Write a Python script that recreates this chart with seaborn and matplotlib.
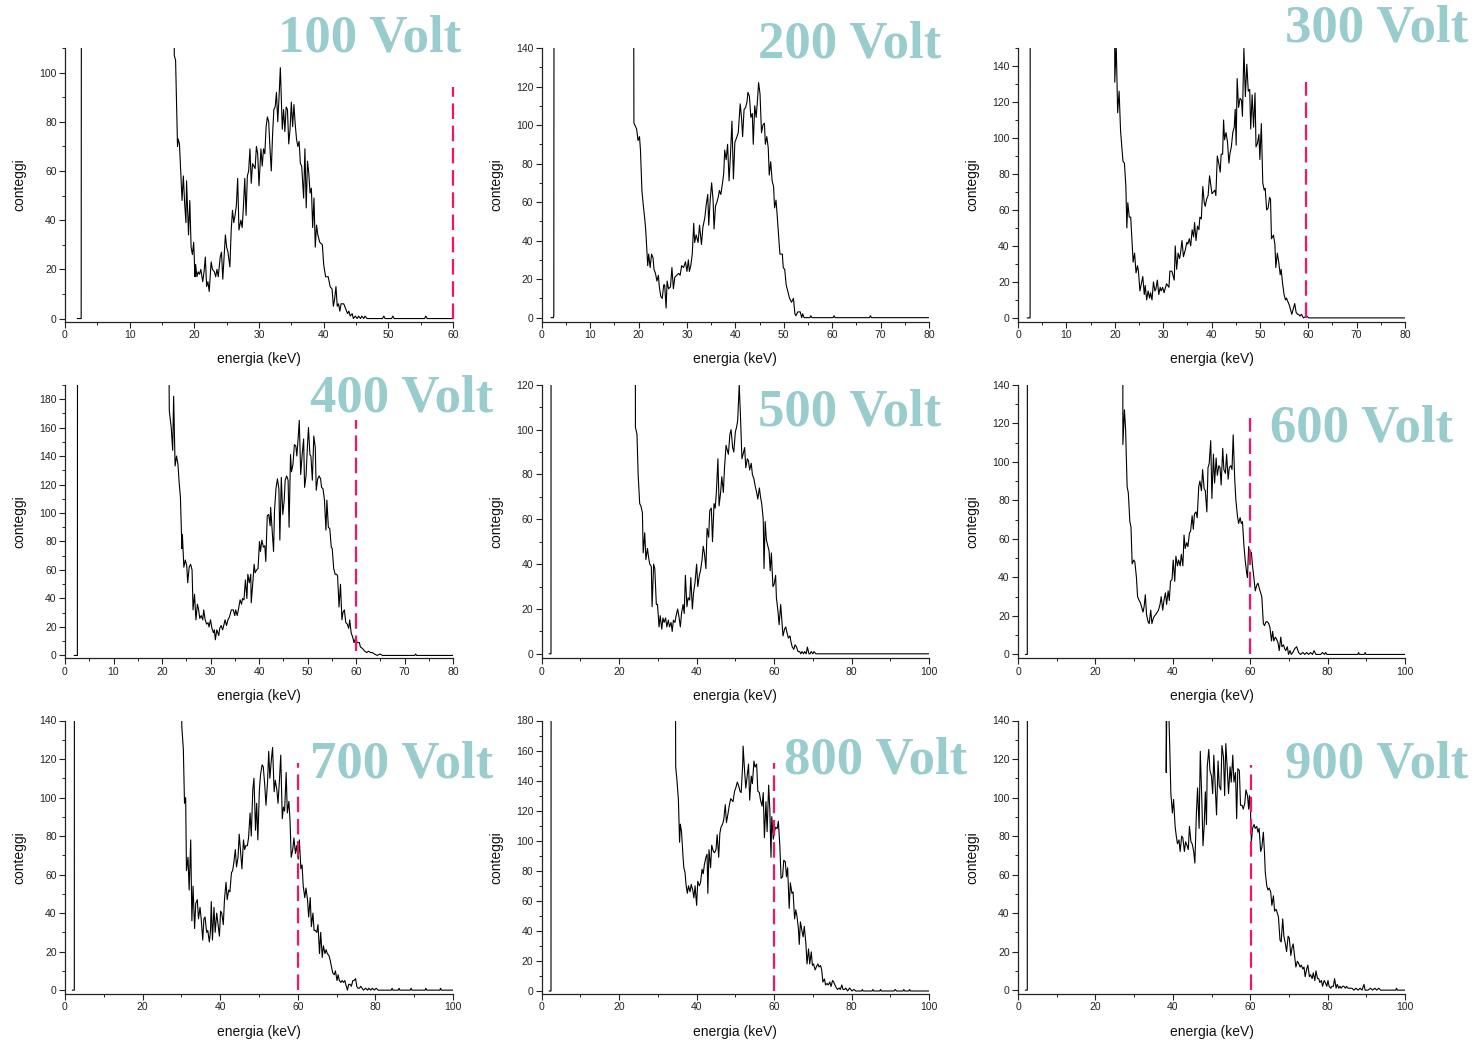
import matplotlib
matplotlib.use("Agg")
import matplotlib.pyplot as plt
import numpy as np
import pandas as pd
import seaborn as sns
from matplotlib.ticker import MultipleLocator

# ---------------- data (energy keV, counts) ----------------
spec100 = [(1.9,0),(2.5,0),(2.6,400),(16.6,400),(16.9,107),(17.1,105),(17.4,70),(17.5,73),(17.7,71),(18.1,48),(18.3,58),(18.5,47),(18.7,39),(18.8,56),(19.1,34),(19.3,48),(19.5,29),(19.7,26),(19.9,31),(20.1,17),(20.2,22),(20.4,17),(20.6,19),(20.8,18),(21.0,20),(21.3,15),(21.5,19),(21.7,25),(21.9,13),(22.1,15),(22.3,11),(22.6,23),(22.8,20),(23.1,19),(23.3,17),(23.5,20),(23.7,17),(24.0,25),(24.2,27),(24.4,16),(24.6,25),(24.8,34),(25.0,29),(25.2,27),(25.5,21),(25.7,36),(25.9,44),(26.1,39),(26.3,42),(26.5,46),(26.7,57),(26.9,36),(27.2,40),(27.4,37),(27.6,46),(27.8,57),(28.0,42),(28.2,58),(28.4,60),(28.6,69),(28.8,55),(29.0,63),(29.2,62),(29.4,61),(29.6,70),(29.8,67),(30.0,54),(30.3,69),(30.5,62),(30.7,69),(30.9,67),(31.1,78),(31.3,82),(31.5,80),(31.7,69),(31.9,60),(32.1,75),(32.3,85),(32.5,86),(32.7,92),(32.9,80),(33.1,90),(33.3,102),(33.6,77),(33.8,85),(34.0,76),(34.2,86),(34.4,85),(34.6,71),(34.8,77),(35.0,88),(35.2,78),(35.4,87),(35.6,79),(35.8,73),(36.0,70),(36.2,72),(36.4,63),(36.6,62),(36.9,49),(37.1,69),(37.3,45),(37.5,64),(37.7,59),(37.9,51),(38.1,53),(38.3,37),(38.5,49),(38.7,29),(38.9,38),(39.1,34),(39.4,31),(39.8,30),(40.0,22),(40.3,17),(40.7,17),(41.0,13),(41.3,12),(41.5,5),(41.7,8),(41.9,13),(42.1,5),(42.3,6),(42.5,3),(42.7,6),(43.1,6),(43.4,4),(43.7,2),(43.9,3),(44.1,1),(44.4,2),(44.6,0),(44.9,1),(45.2,0),(45.4,1),(45.7,0),(45.9,1),(46.2,0),(46.4,1),(46.7,0),(47.0,0),(49.1,0),(49.3,1),(49.5,0),(50.5,0),(50.7,1),(50.9,0),(55.6,0),(55.8,1),(56.0,0),(60.0,0)]

spec200 = [(1.9,0),(2.4,0),(2.5,1),(2.6,400),(18.8,400),(19.05,101),(19.6,98),(19.9,92),(20.2,94),(20.4,87),(20.7,66),(21.0,58),(21.3,51),(21.5,45),(21.9,27),(22.1,33),(22.4,26),(22.7,33),(23.0,31),(23.2,25),(23.5,23),(23.8,19),(24.1,22),(24.3,16),(24.6,11),(24.9,10),(25.2,17),(25.4,17),(25.7,5),(25.9,19),(26.2,15),(26.6,16),(26.9,26),(27.2,15),(27.5,21),(27.9,22),(28.3,23),(28.6,22),(28.9,27),(29.3,26),(29.7,29),(30.0,24),(30.3,30),(30.5,24),(30.8,27),(31.1,33),(31.4,49),(31.6,39),(31.9,43),(32.3,39),(32.6,48),(33.0,38),(33.3,47),(33.7,52),(34.0,59),(34.3,64),(34.5,48),(34.8,61),(35.1,70),(35.4,61),(35.6,46),(35.9,58),(36.2,60),(36.5,63),(36.7,66),(37.0,64),(37.3,69),(37.6,75),(37.8,87),(38.1,82),(38.4,90),(38.7,71),(39.0,85),(39.3,102),(39.6,72),(39.9,91),(40.2,93),(40.6,96),(41.0,111),(41.3,103),(41.5,94),(41.8,108),(42.1,109),(42.4,112),(42.6,117),(42.9,115),(43.2,104),(43.5,106),(43.7,90),(44.0,110),(44.3,104),(44.6,114),(44.8,122),(45.1,116),(45.4,96),(45.7,100),(46.0,101),(46.2,90),(46.5,94),(46.8,88),(47.0,74),(47.3,81),(47.6,71),(47.9,68),(48.1,57),(48.4,61),(48.7,51),(49.0,40),(49.2,33),(49.7,33),(49.9,26),(50.2,25),(50.5,17),(50.8,14),(51.2,10),(51.6,8),(52.0,10),(52.3,2),(52.5,1),(52.9,3),(53.4,3),(53.7,0),(53.9,2),(54.2,0),(55.4,0),(55.6,1),(55.8,0),(60.2,0),(60.4,1),(60.6,0),(67.7,0),(67.9,1),(68.1,0),(80,0)]

spec300 = [(1.9,0),(2.5,0),(2.55,400),(19.95,400),(20.0,131),(20.3,152),(20.6,114),(20.9,126),(21.2,104),(21.4,97),(21.7,87),(22.0,86),(22.3,73),(22.5,50),(22.7,64),(23.0,56),(23.3,56),(23.6,41),(23.8,31),(24.1,36),(24.4,25),(24.7,29),(24.9,26),(25.2,15),(25.5,19),(25.8,23),(26.1,13),(26.3,18),(26.6,10),(26.9,15),(27.2,11),(27.4,14),(27.7,10),(28.0,20),(28.3,15),(28.5,16),(28.8,21),(29.1,13),(29.4,17),(29.6,15),(29.9,17),(30.2,14),(30.5,17),(30.7,19),(31.2,17),(31.4,26),(31.8,26),(32.3,21),(32.5,40),(32.8,27),(33.1,36),(33.4,33),(33.6,36),(33.9,43),(34.2,34),(34.6,38),(34.9,42),(35.1,41),(35.4,44),(35.7,40),(36.0,49),(36.3,45),(36.5,53),(36.8,43),(37.1,51),(37.4,49),(37.6,56),(37.9,55),(38.2,73),(38.5,64),(38.7,62),(39.0,66),(39.3,68),(39.6,79),(39.8,75),(40.1,69),(40.4,70),(40.7,71),(40.9,68),(41.2,90),(41.5,86),(41.8,81),(42.0,91),(42.3,91),(42.5,110),(42.7,99),(43.0,103),(43.3,98),(43.6,86),(43.8,91),(44.1,95),(44.4,103),(44.7,106),(44.9,116),(45.1,96),(45.3,133),(45.6,117),(45.9,122),(46.2,121),(46.4,112),(46.7,150),(47.0,123),(47.3,141),(47.6,126),(47.9,127),(48.1,105),(48.4,124),(48.7,106),(49.0,125),(49.2,95),(49.5,97),(49.8,102),(50.0,88),(50.3,108),(50.6,75),(50.9,71),(51.1,72),(51.4,60),(51.7,61),(52.0,67),(52.2,66),(52.4,44),(52.8,46),(53.1,41),(53.3,28),(53.6,36),(53.9,31),(54.2,24),(54.4,27),(54.7,19),(55.0,13),(55.3,10),(55.5,11),(55.8,9),(56.1,7),(56.4,4),(56.6,2),(56.9,5),(57.2,8),(57.5,3),(57.8,2),(58.0,2),(58.3,1),(58.6,2),(59.0,0),(59.7,1),(60.1,0),(80,0)]

spec400 = [(1.9,0),(2.55,0),(2.6,400),(21.1,400),(21.5,172),(21.9,160),(22.2,144),(22.4,182),(22.7,133),(23.0,140),(23.3,134),(23.5,123),(23.8,111),(24.1,75),(24.2,85),(24.5,62),(24.8,67),(25.1,63),(25.3,51),(25.6,62),(25.9,64),(26.2,60),(26.4,32),(26.7,43),(27.0,25),(27.3,36),(27.5,33),(27.8,26),(28.1,28),(28.4,25),(28.6,32),(28.9,25),(29.2,22),(29.5,23),(29.7,20),(30.0,25),(30.3,19),(30.6,16),(30.8,18),(31.0,11),(31.3,18),(31.7,14),(31.9,19),(32.2,21),(32.5,18),(32.8,22),(33.0,25),(33.3,21),(33.6,25),(33.9,27),(34.3,32),(34.7,32),(35.0,28),(35.2,32),(35.5,28),(35.8,33),(36.1,39),(36.4,36),(36.6,40),(36.9,39),(37.2,53),(37.5,40),(37.7,57),(38.0,51),(38.3,57),(38.4,37),(38.7,50),(39.0,64),(39.2,58),(39.5,60),(39.8,61),(40.1,80),(40.3,73),(40.6,81),(40.9,76),(41.2,77),(41.4,66),(41.7,98),(42.0,99),(42.3,91),(42.4,104),(42.7,88),(43.0,73),(43.2,102),(43.5,117),(43.8,124),(44.1,117),(44.3,81),(44.6,125),(44.9,99),(45.2,109),(45.4,123),(45.7,126),(46.0,123),(46.2,90),(46.5,141),(46.7,129),(47.0,134),(47.3,148),(47.6,147),(47.8,140),(48.1,154),(48.3,165),(48.6,127),(48.9,141),(49.2,152),(49.4,118),(49.7,126),(50.0,148),(50.2,160),(50.5,141),(50.7,140),(51.0,123),(51.3,154),(51.6,146),(51.8,116),(52.1,124),(52.4,126),(52.7,124),(52.9,118),(53.2,117),(53.5,109),(53.8,88),(54.0,109),(54.3,90),(54.6,89),(54.9,76),(55.1,75),(55.4,61),(55.7,57),(56.0,57),(56.2,56),(56.5,34),(56.8,50),(57.1,25),(57.3,30),(57.6,32),(57.9,23),(58.2,22),(58.5,19),(58.7,25),(59.0,16),(59.3,13),(59.6,9),(60.0,13),(60.2,9),(60.7,9),(60.9,6),(61.3,5),(61.8,3),(62.2,2),(62.6,3),(63.0,2),(63.4,2),(63.8,1),(64.4,0),(64.9,1),(65.5,0),(72.1,0),(72.3,1),(72.5,0),(80,0)]

spec500 = [(1.9,0),(2.4,0),(2.45,400),(24.0,400),(24.2,101),(24.6,98),(24.9,80),(25.3,67),(25.6,66),(26.0,63),(26.2,45),(26.6,54),(26.9,42),(27.3,47),(27.6,43),(27.9,40),(28.3,39),(28.5,21),(28.9,40),(29.2,38),(29.6,22),(29.9,22),(30.3,12),(30.6,17),(31.0,11),(31.3,16),(31.6,14),(32.0,16),(32.3,12),(32.7,15),(33.0,12),(33.4,14),(33.7,10),(34.0,15),(34.4,14),(34.7,17),(35.1,20),(35.4,17),(35.8,12),(36.1,18),(36.5,22),(36.8,18),(37.1,35),(37.5,21),(37.8,25),(38.2,24),(38.5,34),(38.9,20),(39.2,27),(39.6,32),(40.0,40),(40.3,30),(40.7,35),(41.0,37),(41.4,42),(41.7,48),(42.0,45),(42.4,38),(42.7,56),(43.1,52),(43.4,64),(43.8,65),(44.1,50),(44.5,67),(44.8,65),(45.1,72),(45.5,87),(45.8,66),(46.2,72),(46.5,79),(46.9,72),(47.2,83),(47.6,93),(47.9,91),(48.2,89),(48.6,98),(48.9,100),(49.3,92),(49.6,90),(50.0,99),(50.3,101),(50.6,104),(51.0,120),(51.3,107),(51.7,87),(52.0,89),(52.4,92),(52.7,83),(53.1,87),(53.4,86),(53.7,82),(54.1,85),(54.4,80),(54.8,78),(55.1,75),(55.5,72),(55.8,69),(56.2,74),(56.5,70),(56.8,67),(57.2,60),(57.4,38),(57.7,59),(58.0,51),(58.4,48),(58.7,46),(59.0,37),(59.3,45),(59.7,30),(60.0,31),(60.4,35),(60.6,25),(61.0,19),(61.3,13),(61.7,22),(62.0,15),(62.3,8),(62.7,11),(63.0,12),(63.4,9),(63.7,7),(64.1,8),(64.4,5),(64.7,3),(65.1,2),(65.4,4),(65.8,3),(66.2,1),(66.6,1),(66.9,0),(67.2,1),(67.6,0),(67.9,1),(68.3,0),(68.6,3),(69.0,0),(69.3,0),(69.6,1),(70.0,0),(70.3,1),(70.8,0),(100,0)]

spec600 = [(1.9,0),(2.4,0),(2.45,400),(27.0,400),(27.1,109),(27.5,127),(27.8,117),(28.2,87),(28.5,84),(28.9,69),(29.2,66),(29.5,47),(29.9,49),(30.2,48),(30.6,40),(30.9,30),(31.3,28),(31.6,27),(31.9,25),(32.3,22),(32.6,25),(32.9,31),(33.2,21),(33.6,17),(33.9,16),(34.3,23),(34.6,16),(35.0,19),(35.3,20),(35.7,21),(36.0,22),(36.3,23),(36.7,26),(37.0,30),(37.4,23),(37.7,28),(38.1,32),(38.4,26),(38.8,33),(39.1,28),(39.4,38),(39.8,39),(40.1,49),(40.5,38),(40.8,51),(41.2,46),(41.5,49),(41.9,46),(42.2,52),(42.6,46),(42.9,62),(43.2,55),(43.6,58),(43.9,56),(44.3,63),(44.6,64),(45.0,72),(45.3,65),(45.6,73),(46.0,74),(46.3,71),(46.7,87),(47.0,90),(47.4,85),(47.7,96),(48.1,86),(48.4,85),(48.8,74),(49.1,97),(49.4,99),(49.8,111),(50.1,81),(50.5,104),(50.8,89),(51.2,102),(51.5,93),(51.9,98),(52.2,97),(52.5,88),(52.9,107),(53.2,96),(53.6,94),(53.9,104),(54.3,91),(54.6,97),(55.0,98),(55.3,96),(55.6,114),(56.0,91),(56.3,80),(56.7,72),(57.0,68),(57.4,71),(57.7,68),(58.0,69),(58.4,56),(58.7,49),(59.1,42),(59.3,40),(59.6,56),(59.9,52),(60.3,53),(60.6,46),(61.0,39),(61.3,33),(61.7,36),(62.0,37),(62.4,34),(62.7,32),(63.0,30),(63.4,16),(63.7,15),(64.1,17),(64.4,17),(64.8,16),(65.1,14),(65.5,7),(65.8,12),(66.1,7),(66.5,9),(66.8,8),(67.2,6),(67.5,2),(67.9,9),(68.2,4),(68.6,5),(68.9,3),(69.2,2),(69.6,4),(69.9,0),(70.3,2),(70.6,0),(71.0,1),(71.5,3),(72.0,4),(72.5,1),(73.0,0),(73.6,1),(74.1,0),(74.6,1),(75.1,0),(75.6,1),(76.1,0),(76.5,2),(77.0,0),(78.2,0),(78.7,1),(79.2,0),(79.5,1),(79.8,0),(87.8,0),(88.0,1),(88.2,0),(89.5,0),(89.7,1),(89.9,0),(100,0)]

spec700 = [(1.9,0),(2.4,0),(2.45,400),(29.8,400),(30.1,137),(30.5,125),(30.8,97),(31.1,100),(31.3,62),(31.7,69),(32.0,52),(32.4,78),(32.7,36),(33.0,54),(33.4,32),(33.7,45),(34.1,47),(34.4,37),(34.8,43),(35.1,37),(35.5,26),(35.8,37),(36.1,38),(36.5,30),(36.8,31),(37.2,25),(37.5,31),(37.7,46),(38.0,26),(38.4,43),(38.7,30),(39.1,40),(39.4,35),(39.8,28),(40.1,41),(40.4,40),(40.8,34),(41.1,47),(41.5,56),(41.8,47),(42.2,52),(42.5,51),(42.9,61),(43.2,62),(43.5,66),(43.9,73),(44.2,64),(44.6,69),(44.9,81),(45.3,71),(45.6,63),(46.0,78),(46.3,73),(46.6,75),(47.0,75),(47.3,79),(47.7,92),(48.0,80),(48.4,104),(48.7,110),(49.1,83),(49.4,97),(49.7,78),(50.1,104),(50.4,112),(50.8,117),(51.1,116),(51.5,106),(51.8,96),(52.2,108),(52.5,124),(52.8,110),(53.2,120),(53.5,126),(53.9,103),(54.2,109),(54.6,104),(54.9,97),(55.3,110),(55.6,122),(56.0,89),(56.3,95),(56.6,93),(57.0,113),(57.3,92),(57.7,98),(58.0,88),(58.3,69),(58.7,73),(59.0,79),(59.4,71),(59.7,75),(60.1,68),(60.4,78),(60.8,63),(61.1,65),(61.4,54),(61.8,48),(62.1,53),(62.5,47),(62.8,38),(63.2,48),(63.5,33),(63.9,40),(64.2,31),(64.5,31),(64.9,30),(65.2,34),(65.6,19),(65.9,30),(66.3,17),(66.6,23),(67.0,19),(67.3,21),(67.6,19),(68.0,18),(68.3,16),(68.7,12),(69.0,9),(69.4,8),(69.7,10),(70.1,5),(70.4,8),(70.7,5),(71.1,4),(71.4,5),(71.8,4),(72.1,5),(72.5,2),(72.8,0),(73.1,3),(73.5,3),(73.8,2),(74.2,5),(74.5,5),(74.9,6),(75.2,2),(75.5,1),(75.9,1),(76.2,2),(76.6,1),(76.9,0),(77.5,1),(78.0,0),(78.3,1),(78.8,0),(79.2,1),(79.7,0),(80.2,1),(80.7,0),(84.1,0),(84.3,1),(84.5,0),(85.9,0),(86.1,1),(86.3,0),(89.0,0),(89.2,1),(89.4,0),(92.8,0),(93.0,1),(93.2,0),(96.6,0),(96.8,1),(97.0,0),(100,0)]

spec800 = [(1.9,0),(2.4,0),(2.45,400),(34.3,400),(34.6,149),(34.9,141),(35.3,127),(35.6,99),(35.8,111),(36.1,106),(36.5,89),(36.7,82),(37.0,79),(37.3,70),(37.6,65),(37.9,70),(38.3,66),(38.6,71),(39.0,67),(39.3,62),(39.6,70),(40.0,57),(40.3,73),(40.7,70),(41.0,72),(41.4,81),(41.7,78),(42.0,84),(42.4,89),(42.7,91),(42.9,65),(43.2,94),(43.6,82),(43.9,97),(44.3,93),(44.6,92),(45.0,94),(45.3,104),(45.7,89),(46.0,105),(46.3,109),(46.7,111),(47.0,114),(47.4,124),(47.7,112),(48.1,118),(48.4,123),(48.8,128),(49.1,127),(49.4,126),(49.8,133),(50.1,135),(50.5,139),(50.8,137),(51.2,133),(51.5,132),(51.9,151),(52.0,163),(52.4,146),(52.7,135),(53.1,144),(53.4,151),(53.7,127),(54.1,143),(54.4,138),(54.8,153),(55.1,149),(55.5,151),(55.8,133),(56.2,132),(56.5,127),(56.9,123),(57.2,132),(57.5,102),(57.9,126),(58.2,106),(58.6,137),(58.9,121),(59.2,89),(59.4,116),(59.8,101),(60.1,106),(60.4,109),(60.8,108),(61.1,113),(61.5,96),(61.8,75),(62.2,76),(62.5,87),(62.9,86),(63.2,76),(63.5,82),(63.9,55),(64.2,72),(64.6,65),(64.9,66),(65.3,48),(65.6,54),(65.9,50),(66.3,41),(66.5,31),(66.8,46),(67.2,40),(67.5,36),(67.8,43),(68.2,32),(68.5,18),(68.9,28),(69.2,18),(69.6,26),(69.9,17),(70.2,18),(70.6,14),(70.9,16),(71.3,18),(71.6,16),(72.0,17),(72.3,14),(72.6,6),(73.0,8),(73.3,4),(73.7,5),(74.0,4),(74.4,6),(74.7,3),(75.1,7),(75.4,6),(75.7,4),(76.1,2),(76.4,1),(76.8,2),(77.1,1),(77.5,4),(77.8,1),(78.2,1),(78.5,2),(79.0,0),(79.5,2),(80.1,0),(80.6,1),(81.1,0),(82.6,0),(82.8,1),(83.0,0),(85.3,0),(85.5,1),(85.7,0),(87.3,0),(87.5,1),(87.7,0),(91.0,0),(91.3,1),(91.6,0),(93.3,0),(93.5,1),(93.7,0),(94.8,0),(95.0,1),(95.2,0),(100,0)]

spec900 = [(1.9,0),(2.4,0),(2.45,400),(38.25,400),(38.3,113),(38.5,160),(38.75,160),(39.2,127),(39.5,102),(39.9,92),(40.2,99),(40.6,85),(40.9,80),(41.2,76),(41.6,78),(41.9,72),(42.3,80),(42.6,79),(43.0,72),(43.3,77),(43.7,75),(44.0,73),(44.3,85),(44.7,77),(45.0,76),(45.4,72),(45.7,66),(46.1,92),(46.4,105),(46.8,84),(47.1,124),(47.5,99),(47.8,75),(48.1,85),(48.4,103),(48.7,86),(48.9,116),(49.3,125),(49.6,114),(50.0,111),(50.3,102),(50.6,122),(51.0,104),(51.3,91),(51.7,119),(52.0,106),(52.4,104),(52.7,127),(53.1,121),(53.4,101),(53.7,128),(54.1,114),(54.4,102),(54.8,116),(55.1,108),(55.5,122),(55.8,108),(56.2,113),(56.5,89),(56.8,115),(57.2,114),(57.5,96),(57.9,96),(58.2,94),(58.6,97),(58.9,104),(59.3,101),(59.6,94),(59.8,101),(60.1,92),(60.3,77),(60.6,84),(61.0,86),(61.3,84),(61.7,85),(62.0,82),(62.3,84),(62.7,72),(63.0,74),(63.4,82),(63.7,71),(63.9,61),(64.3,54),(64.6,52),(64.9,53),(65.3,51),(65.6,44),(66.0,49),(66.3,41),(66.7,42),(67.0,40),(67.3,38),(67.7,26),(68.0,25),(68.4,37),(68.7,28),(69.1,24),(69.4,20),(69.8,28),(70.1,27),(70.5,18),(70.8,22),(71.1,24),(71.5,17),(71.8,12),(72.2,15),(72.5,14),(72.9,12),(73.2,13),(73.6,11),(73.9,12),(74.2,7),(74.6,11),(74.9,13),(75.3,7),(75.6,8),(76.0,6),(76.3,9),(76.7,5),(77.0,10),(77.4,6),(77.7,6),(78.0,4),(78.4,5),(78.7,2),(79.1,5),(79.4,4),(79.8,2),(80.1,5),(80.4,2),(80.8,1),(81.1,2),(81.5,2),(81.8,6),(82.2,1),(82.5,3),(82.9,1),(83.2,2),(83.5,1),(83.9,2),(84.2,2),(84.6,1),(84.9,2),(85.3,1),(85.8,1),(86.3,1),(86.8,0),(87.3,1),(87.9,0),(88.4,1),(88.9,0),(89.4,3),(89.7,0),(90.4,0),(91.1,1),(91.6,0),(92.2,1),(92.7,0),(93.2,1),(93.7,0),(97.6,0),(97.8,1),(98.0,0),(100,0)]

titles = ["100 Volt", "200 Volt", "300 Volt", "400 Volt", "500 Volt",
          "600 Volt", "700 Volt", "800 Volt", "900 Volt"]
spectra = [spec100, spec200, spec300, spec400, spec500,
           spec600, spec700, spec800, spec900]
x_max = [60, 80, 80, 80, 100, 100, 100, 100, 100]
y_max = [110, 140, 150, 190, 120, 140, 140, 180, 140]
x_major = [10, 10, 10, 10, 20, 20, 20, 20, 20]
# reference (60 keV) dashed marker: x, bottom, top (None = no marker)
marker_x = [60, None, 59.5, 60.1, None, 59.9, 60.0, 59.9, 60.3]
marker_lo = [0, None, 0, 3, None, 0, 0, 0, 0]
marker_hi = [94, None, 131, 165, None, 123, 118, 152, 117]

# ---------------- layout (pixels of the 1483x1049 canvas) ----------------
W, H = 1483, 1049
col_left = [65, 541.7, 1018]
col_w = [388, 387.3, 387]
row_bottom = [321.5, 658.3, 994]
ax_h = 273.5
title_pos = [(278, 52), (758, 58), (1285, 42), (310, 411), (758, 426),
             (1270, 442), (310, 778), (784, 774), (1285, 778)]

sns.set_style("ticks")
plt.rcParams["font.family"] = ["Liberation Sans", "DejaVu Sans"]

fig = plt.figure(figsize=(W / 100, H / 100), dpi=100)

axis_col = "#222222"
for i in range(9):
    r, c = divmod(i, 3)
    ax = fig.add_axes([col_left[c] / W, 1 - row_bottom[r] / H,
                       col_w[c] / W, ax_h / H])
    df = pd.DataFrame(spectra[i], columns=["energia", "conteggi"])
    sns.lineplot(data=df, x="energia", y="conteggi", estimator=None,
                 sort=False, color="black", linewidth=0.8, ax=ax)
    if marker_x[i] is not None:
        ax.plot([marker_x[i], marker_x[i]], [marker_lo[i], marker_hi[i]],
                color="#F0146A", linewidth=1.6, linestyle=(0, (7, 3)),
                zorder=3, clip_on=False)
    ybot = -1.2 if i == 0 else -2
    ax.set_xlim(0, x_max[i])
    ax.set_ylim(ybot, y_max[i])
    ax.xaxis.set_major_locator(MultipleLocator(x_major[i]))
    ax.xaxis.set_minor_locator(MultipleLocator(x_major[i] / 2))
    ax.yaxis.set_major_locator(MultipleLocator(20))
    ax.yaxis.set_minor_locator(MultipleLocator(10))
    sns.despine(ax=ax)
    for s in ("left", "bottom"):
        ax.spines[s].set_color(axis_col)
        ax.spines[s].set_linewidth(0.9)
    ax.tick_params(which="major", direction="out", length=4, width=0.8,
                   colors=axis_col, labelsize=7.5, pad=2)
    ax.tick_params(which="minor", direction="out", length=2.5, width=0.7,
                   colors=axis_col)
    ax.set_xlabel("energia (keV)", fontsize=10, labelpad=9, color="#111111")
    ax.set_ylabel("conteggi", fontsize=10, labelpad=9, color="#111111")
    tx, ty = title_pos[i]
    fig.text(tx / W, 1 - ty / H, titles[i], ha="left", va="baseline",
             fontsize=38, fontweight="bold", color="#99CCCC",
             family=["Liberation Serif", "DejaVu Serif"])

fig.savefig("out.png", dpi=100)
